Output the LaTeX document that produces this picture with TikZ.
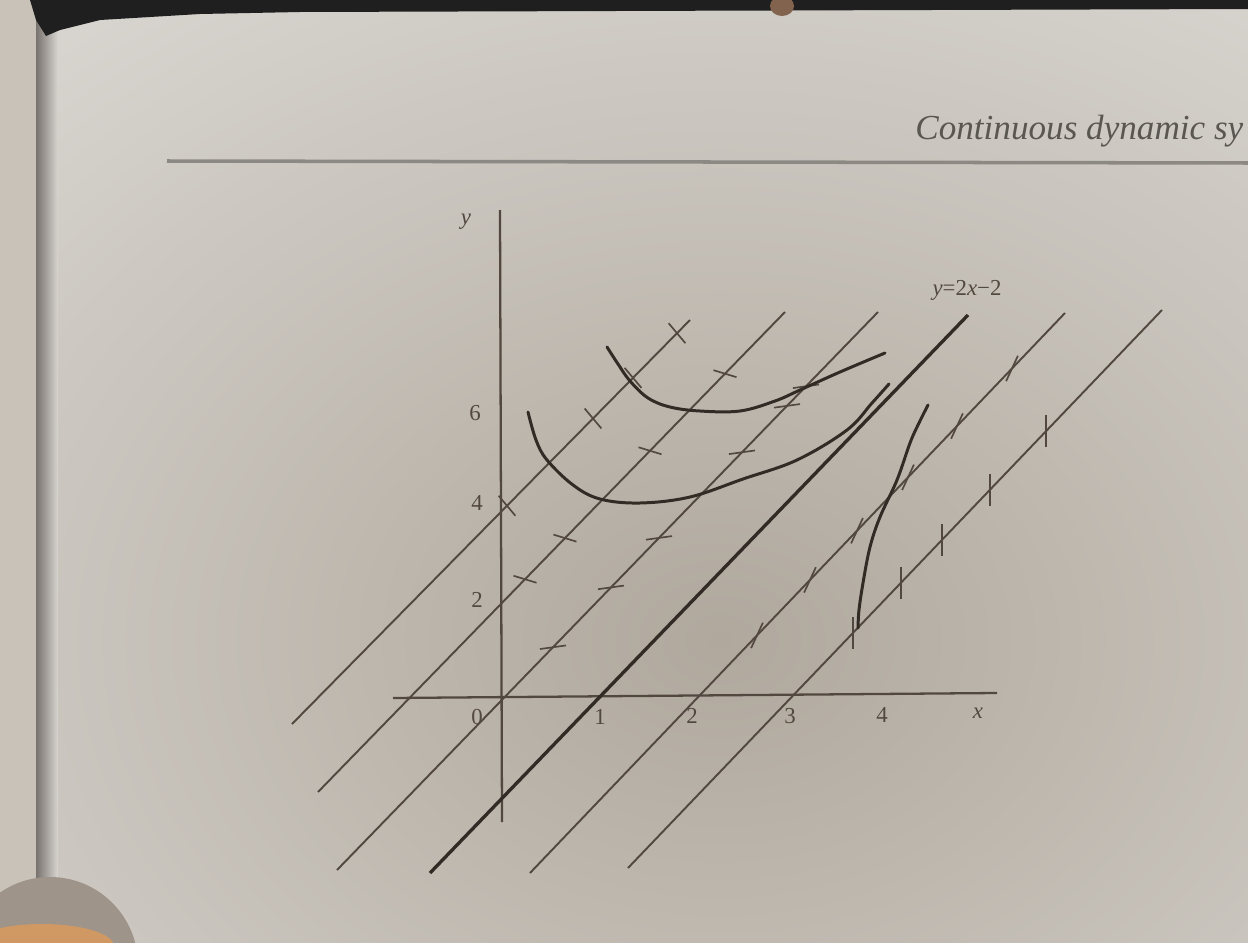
\documentclass[tikz,border=0pt]{standalone}
\usepackage{fontspec}
\setmainfont{Liberation Serif}
\usetikzlibrary{calc}
\definecolor{pagebg}{RGB}{216,213,208}
\definecolor{pagedark}{RGB}{176,168,157}
\definecolor{leftstrip}{RGB}{201,194,184}
\definecolor{edgegrey}{RGB}{120,114,110}
\definecolor{ink}{RGB}{82,72,63}
\definecolor{inkdark}{RGB}{50,42,36}
\definecolor{headgrey}{RGB}{90,86,82}
\definecolor{rulegrey}{RGB}{140,136,131}
\definecolor{shadowc}{RGB}{158,148,138}
\definecolor{fingerc}{RGB}{208,152,98}
\definecolor{bumpc}{RGB}{130,100,78}
\newcommand\tickon[7]{\draw[tickln] ({#5-(#6)},{#2+(#5-#1)/(#3-#1)*(#4-#2)-(#7)}) -- ({#5+(#6)},{#2+(#5-#1)/(#3-#1)*(#4-#2)+(#7)});}
\newcommand\tkA[1]{\tickon{292}{724}{690}{320}{#1}{8.4}{10}}
\newcommand\tkB[1]{\tickon{318}{792}{785}{312}{#1}{11.5}{3.5}}
\newcommand\tkC[1]{\tickon{337}{870}{878}{312}{#1}{13}{-1.8}}
\newcommand\tkE[1]{\tickon{530}{873}{1065}{313}{#1}{5.9}{-12.7}}
\newcommand\tkF[1]{\tickon{628}{868}{1162}{310}{#1}{0}{-16}}
\begin{document}
\begin{tikzpicture}[x=0.02cm,y=-0.02cm,
  thinline/.style={draw=ink, line width=1.1pt},
  thickline/.style={draw=inkdark, line width=1.9pt},
  solcurve/.style={draw=inkdark, line width=1.7pt, line cap=round},
  tickln/.style={draw=ink, line width=0.95pt},
  axisline/.style={draw=ink, line width=1.3pt},
  lbl/.style={font=\fontsize{13}{13}\selectfont, text=ink, inner sep=0pt}]
\useasboundingbox (0,0) rectangle (1248,943);
\begin{scope}
\clip (0,0) rectangle (1248,943);
% page background
\fill[pagebg] (0,0) rectangle (1248,943);
\shade[inner color=pagedark, outer color=pagebg] (720,640) ellipse (1050 and 800);
% left book edge
\fill[leftstrip] (0,0) rectangle (36,943);
\shade[left color=edgegrey, right color=pagebg] (36,0) rectangle (58,943);
% top black band
\fill[black!88] (30,0) -- (1248,0) -- (1248,9) -- (300,12) -- (200,14) -- (100,20) -- (60,30) -- (46,36) -- (36,20) -- cycle;
\fill[bumpc] (782,6) ellipse (12 and 10);
% bottom-left shadow and finger
\fill[shadowc] (50,965) circle (88);
\fill[fingerc] (42,946) ellipse (72 and 22);
% header
\node[anchor=west, font=\fontsize{20}{20}\selectfont\itshape, text=headgrey, inner sep=0pt] (head) at (915,131) {Continuous dynamic sy};
\draw[rulegrey, line width=2pt] (167,161) -- (1248,163);
% axes
\coordinate (yb) at (502,822); \coordinate (yt) at (500,210);
\coordinate (xl) at (393,698); \coordinate (xr) at (997,693);
\draw[axisline] (yb) -- (yt);
\draw[axisline] (xl) -- (xr);
% isoclines
\coordinate (a1) at (292,724); \coordinate (a2) at (690,320);
\coordinate (b1) at (318,792); \coordinate (b2) at (785,312);
\coordinate (c1) at (337,870); \coordinate (c2) at (878,312);
\coordinate (d1) at (430,873); \coordinate (d2) at (968,315);
\coordinate (e1) at (530,873); \coordinate (e2) at (1065,313);
\coordinate (f1) at (628,868); \coordinate (f2) at (1162,310);
\draw[thinline] (a1) -- (a2);
\draw[thinline] (b1) -- (b2);
\draw[thinline] (c1) -- (c2);
\draw[thickline] (d1) -- (d2);
\draw[thinline] (e1) -- (e2);
\draw[thinline] (f1) -- (f2);
% direction marks
\tkA{507}\tkA{593}\tkA{633}\tkA{677}
\tkB{525}\tkB{565}\tkB{650}\tkB{725}
\tkC{553}\tkC{611}\tkC{659}\tkC{742}\tkC{787}\tkC{806}
\tkE{757}\tkE{810}\tkE{857}\tkE{908}\tkE{957}\tkE{1012}
\tkF{853}\tkF{901}\tkF{942}\tkF{990}\tkF{1046}
% solution curves
\draw[solcurve] plot[smooth, tension=0.6] coordinates {(607,347) (618,364) (630,381) (648,398) (670,407) (700,411) (740,411) (775,401) (800,390) (840,372) (885,353)};
\draw[solcurve] plot[smooth, tension=0.6] coordinates {(528,412) (536,440) (547,460) (573,485) (600,499) (640,503) (690,497) (743,479) (797,460) (847,430) (872,403) (889,384)};
\draw[solcurve] plot[smooth, tension=0.6] coordinates {(928,405) (918,425) (910,443) (897,480) (880,517) (870,547) (863,583) (859,610) (858,628)};
% labels
\node[lbl, font=\fontsize{13}{13}\selectfont\itshape] (ylab) at (466,222) {y};
\node[lbl] (y6) at (475,413) {6};
\node[lbl] (y4) at (477,503) {4};
\node[lbl] (y2) at (477,600) {2};
\node[lbl] (x0) at (477,717) {0};
\node[lbl] (x1) at (600,717) {1};
\node[lbl] (x2) at (692,716) {2};
\node[lbl] (x3) at (790,716) {3};
\node[lbl] (x4) at (882,715) {4};
\node[lbl, font=\fontsize{13}{13}\selectfont\itshape] (xlab) at (978,713) {x};
\node[lbl] (eq) at (967,290) {\textit{y}=2\textit{x}−2};
\end{scope}
\end{tikzpicture}
\end{document}
